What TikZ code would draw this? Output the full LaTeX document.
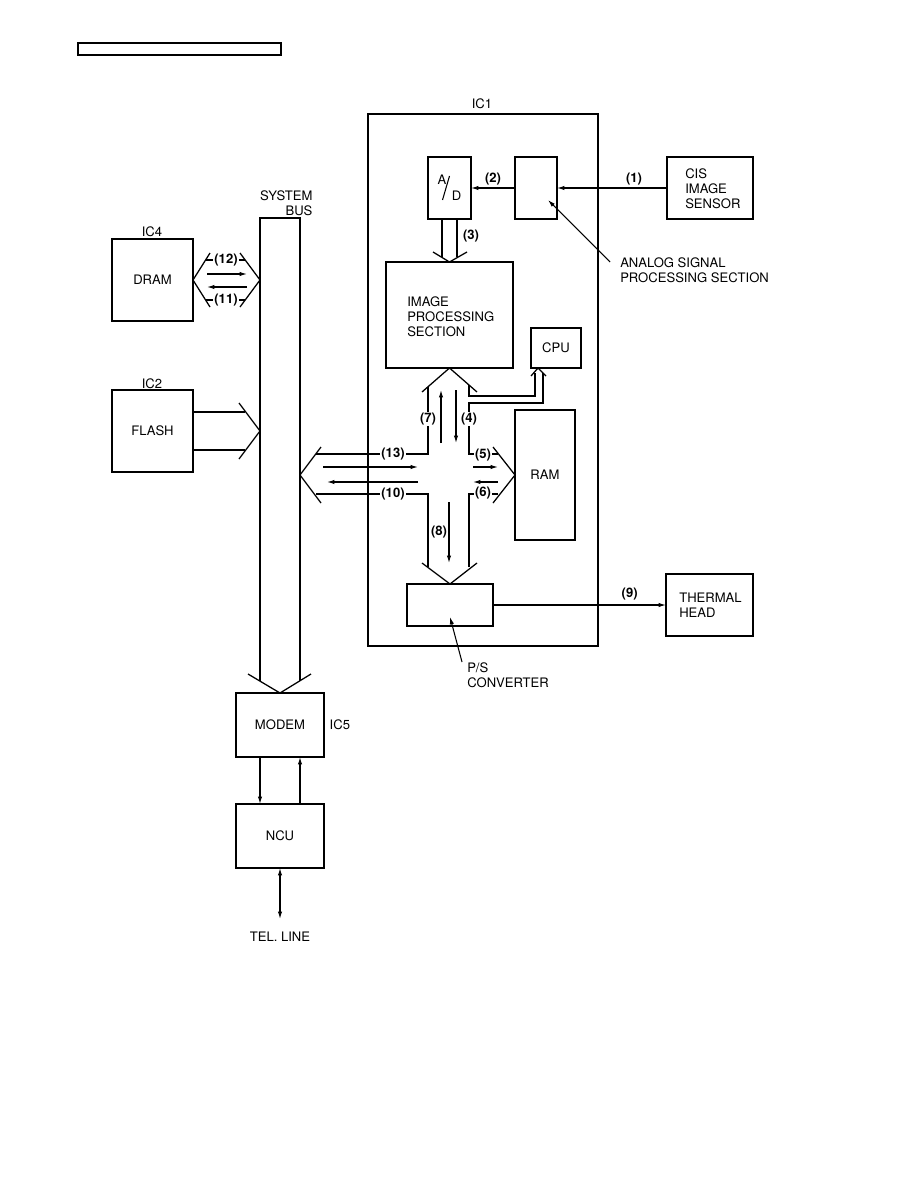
\documentclass[tikz,border=0pt]{standalone}
\usepackage{fontspec}
\setmainfont{TeX Gyre Heros}
\usetikzlibrary{arrows.meta, calc}
\tikzstyle{arrow} = [line width=0.8pt,-{Latex[length=5.5pt,width=3.2pt]}]
\tikzstyle{biarrow} = [line width=0.8pt,{Latex[length=5.5pt,width=3.2pt]}-{Latex[length=5.5pt,width=3.2pt]}]

\begin{document}
\begin{tikzpicture}[
    x=0.75pt, y=-0.75pt,
    every node/.style={font=\fontsize{9.8}{11.25}\selectfont},
    chip/.style={rectangle, draw, line width=1.5pt, inner sep=0pt, outer sep=0pt, align=center},
    block/.style={rectangle, draw, line width=1pt, inner sep=0pt, outer sep=0pt, align=center},
    bus/.style={line width=0.95pt},
    tag/.style={font=\fontsize{9.8}{11.25}\selectfont\bfseries, inner sep=1pt},
    note/.style={align=left, anchor=west, inner sep=0pt}
]
    \useasboundingbox (0,0) rectangle (918,1188);

    \node[chip, minimum width=152.25pt, minimum height=9pt] (hdr) at (179.5,49) {};

    \node[chip, minimum width=172.5pt, minimum height=399pt] (ic1) at (483,380) {};
    \node (ic1lbl) at (482,104) {IC1};
    \node[block, minimum width=32.25pt, minimum height=46.5pt] (ad) at (449.5,188) {};
    \node[inner sep=0pt] (adA) at (442,180) {A};
    \node[inner sep=0pt] (adD) at (456.5,196) {D};
    \draw[line width=0.8pt] (442.5,200) -- (449.5,176);
    \node[block, minimum width=31.5pt, minimum height=46.5pt] (asp) at (536,188) {};
    \node[chip, minimum width=64.5pt, minimum height=46.5pt] (cis) at (710,188) {};
    \node[note] (cislbl) at (685,189) {CIS\\IMAGE\\SENSOR};
    \node[block, minimum width=95.25pt, minimum height=79.5pt] (ips) at (449.5,315) {};
    \node[note] (ipslbl) at (407,317) {IMAGE\\PROCESSING\\SECTION};
    \node[block, minimum width=37.5pt, minimum height=30pt] (cpu) at (556,348) {CPU};
    \node[block, minimum width=45pt, minimum height=97.5pt] (ram) at (545,475) {RAM};
    \node[block, minimum width=64.5pt, minimum height=31.5pt] (ps) at (450,605) {};
    \node[chip, minimum width=65.25pt, minimum height=46.5pt] (th) at (709.5,605) {};
    \node[note] (thlbl) at (679,605) {THERMAL\\HEAD};
    \node[note] (asplbl) at (620,270) {ANALOG SIGNAL\\PROCESSING SECTION};
    \node[note] (pslbl) at (467,675) {P/S\\CONVERTER};

    \node[chip, minimum width=60.75pt, minimum height=61.5pt] (dram) at (152.5,280) {DRAM};
    \node (ic4) at (152,232) {IC4};
    \node[chip, minimum width=60.75pt, minimum height=61.5pt] (flash) at (152.5,431) {FLASH};
    \node (ic2) at (152,384) {IC2};
    \node[anchor=south east, inner sep=1pt, align=right] (sblbl) at (314,217) {SYSTEM\\BUS};
    \node[chip, minimum width=66pt, minimum height=48pt] (modem) at (280,725) {MODEM};
    \node[anchor=west] (ic5) at (325,725) {IC5};
    \node[chip, minimum width=66pt, minimum height=48pt] (ncu) at (280,836) {NCU};
    \coordinate (tel) at (280,919);
    \node (tellbl) at (280,937) {TEL. LINE};

    \draw[bus] (260,681) -- (260,218) -- (300,218) -- (300,681);
    \draw[bus] (248,674) -- (modem.north) -- (311,674);

    \draw[bus] (210,253) -- (dram.east) -- (210,307);
    \draw[bus] (240,253) -- (260,280) -- (240,307);
    \draw[bus] (206,260) -- (245,260);
    \draw[bus] (206,300) -- (245,300);
    \node[tag, fill=white] (t12) at (226,260) {(12)};
    \node[tag, fill=white] (t11) at (226,300) {(11)};
    \draw[arrow] (207,274) -- (247,274);
    \draw[arrow] (247,287) -- (207,287);

    \draw[bus] (flash.east |- 0,412) -- (245,412);
    \draw[bus] (flash.east |- 0,450) -- (245,450);
    \draw[bus] (239,403) -- (260,431) -- (239,459);

    \draw[bus] (442,219) -- (442,257);
    \draw[bus] (457,219) -- (457,257);
    \draw[bus] (433,252) -- (ips.north) -- (467,252);
    \node[tag] (t3) at (471,236) {(3)};

    \draw[bus] (422,392) -- (ips.south) -- (477,392);
    \draw[bus] (428,387) -- (428,454) -- (316,454);
    \draw[bus] (321,447) -- (300,475) -- (321,503);
    \draw[bus] (316,494) -- (428,494) -- (428,567);
    \draw[bus] (422,563) -- (ps.north) -- (477,563);
    \draw[bus] (469,567) -- (469,494) -- (498,494);
    \draw[bus] (493,447) -- (ram.west) -- (493,503);
    \draw[bus] (498,454) -- (469,454) -- (469,403) -- (543,403) -- (543,373);
    \draw[bus] (469,385) -- (469,396) -- (535,396) -- (535,373);
    \draw[bus] (531,376) -- ($(cpu.south west)+(7,0)$) -- (546,376);
    \node[tag, fill=white] (t7) at (428,419) {(7)};
    \node[tag, fill=white] (t4) at (469,419) {(4)};
    \node[tag, fill=white] (t13) at (393,454) {(13)};
    \node[tag, fill=white] (t10) at (393,494) {(10)};
    \node[tag, fill=white] (t5) at (483,455) {(5)};
    \node[tag, fill=white] (t6) at (483,493) {(6)};
    \node[tag] (t8) at (439,532) {(8)};

    \draw[arrow] (441,443) -- (441,390);
    \draw[arrow] (456,390) -- (456,443);
    \draw[arrow] (473,467) -- (498,467);
    \draw[arrow] (498,482) -- (473,482);
    \draw[arrow] (323,467) -- (418,467);
    \draw[arrow] (418,482) -- (327,482);
    \draw[arrow] (449,502) -- (449,563);

    \draw[arrow] (cis.west) -- node[tag, pos=0.3, above=1pt] (t1) {(1)} (asp.east);
    \draw[arrow] (asp.west) -- node[tag, above=1pt] (t2) {(2)} (ad.east);
    \draw[arrow] (ps.east) -- node[tag, pos=0.79, above=2pt] (t9) {(9)} (th.west);
    \coordinate (asptail) at (610,262);
    \draw[arrow] (asptail) -- ($(asp.center)+(12,12)$);
    \coordinate (pstail) at (462,662);
    \draw[arrow] (pstail) -- ($(ps.center)+(0,12)$);

    \draw[arrow] ($(modem.south)+(-20,0)$) -- ($(ncu.north)+(-20,0)$);
    \draw[arrow] ($(ncu.north)+(20,0)$) -- ($(modem.south)+(20,0)$);
    \draw[biarrow] (ncu.south) -- (tel);
\end{tikzpicture}
\end{document}
